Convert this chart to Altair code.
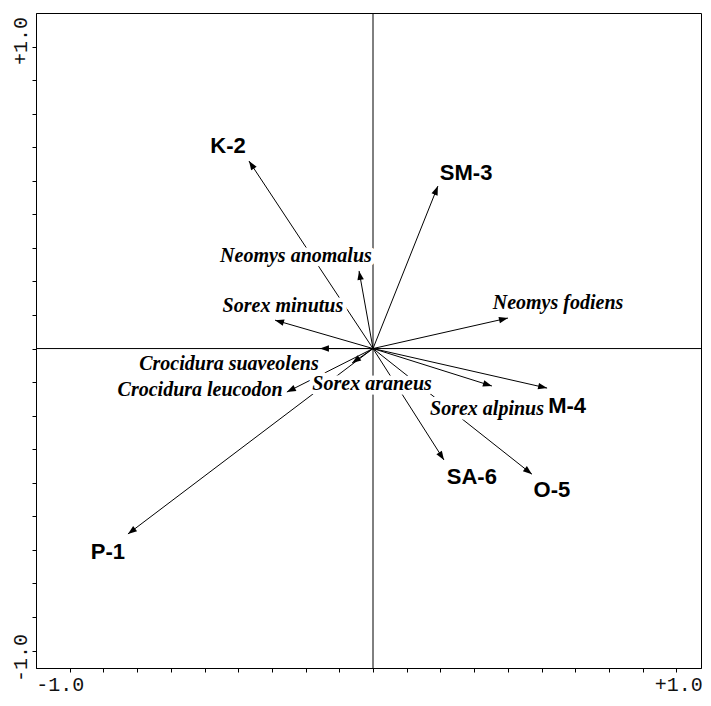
import altair as alt
import pandas as pd
import numpy as np

# ---- data ----
names = ["K-2", "SM-3", "M-4", "O-5", "SA-6", "P-1",
         "Neomys anomalus", "Sorex minutus", "Crocidura suaveolens",
         "Crocidura leucodon", "Sorex araneus", "Neomys fodiens", "Sorex alpinus"]
kinds = ["site"] * 6 + ["species"] * 7
tip_x = [-0.409, 0.214, 0.574, 0.524, 0.234, -0.808,
         -0.046, -0.323, -0.175, -0.284, -0.069, 0.445, 0.392]
tip_y = [0.621, 0.538, -0.131, -0.416, -0.369, -0.614,
         0.257, 0.094, 0.000, -0.144, -0.048, 0.101, -0.124]
label_x = [-0.478, 0.307, 0.640, 0.590, 0.326, -0.874,
           -0.254, -0.297, -0.475, -0.570, -0.003, 0.610, 0.376]
label_y = [0.670, 0.581, -0.190, -0.469, -0.425, -0.674,
           0.306, 0.141, -0.051, -0.137, -0.118, 0.151, -0.200]
x_ticks = [k / 9 for k in range(-9, 10)]
y_ticks = [k / 9 for k in range(-9, 10)]

# plot-area geometry (pixels per unit as in the original, trimmed to fit the page)
PX_X, PX_Y = 303.3, 302.0
W, H = 665, 655
XMIN = -10 / 9
YMAX = 10 / 9
XMAX = XMIN + W / PX_X
YMIN = YMAX - H / PX_Y

df = pd.DataFrame({"name": names, "kind": kinds, "x": tip_x, "y": tip_y,
                   "lx": label_x, "ly": label_y})
df["x0"] = 0.0
df["y0"] = 0.0
df["angle"] = (np.degrees(np.arctan2(df["x"] * PX_X, df["y"] * PX_Y)) + 360) % 360

xs = alt.Scale(domain=[XMIN, XMAX], nice=False, zero=False)
ys = alt.Scale(domain=[YMIN, YMAX], nice=False, zero=False)

xaxis = alt.Axis(values=x_ticks, title=None, grid=False,
                 labelExpr="datum.value == -1 ? '-1.0' : (datum.value == 1 ? '+1.0' : '')",
                 labelFont="Liberation Mono", labelFontSize=20, labelColor="#111",
                 labelOverlap=False, labelFlush=False, labelPadding=2,
                 labelBaseline="top", labelAlign="center",
                 labelOffset={"condition": {"test": "datum.value < 0", "value": -10}, "value": 2},
                 tickSize=4, tickColor="black", domainColor="black")
yaxis = alt.Axis(values=y_ticks, title=None, grid=False,
                 labelExpr="datum.value == -1 ? '-1.0' : (datum.value == 1 ? '+1.0' : '')",
                 labelFont="Liberation Mono", labelFontSize=20, labelColor="#111",
                 labelOverlap=False, labelFlush=False, labelPadding=2,
                 labelAngle=270, labelAlign="center", labelBaseline="bottom",
                 labelOffset={"condition": {"test": "datum.value > 0", "value": -6}, "value": 7},
                 tickSize=4, tickColor="black", domainColor="black")


def X(f):
    return alt.X(f, type="quantitative", scale=xs, axis=xaxis)


def Y(f):
    return alt.Y(f, type="quantitative", scale=ys, axis=yaxis)


base = alt.Chart(df)

vline = alt.Chart(pd.DataFrame({"v": [0.0]})).mark_rule(color="black", strokeWidth=1).encode(x=X("v"))
hline = alt.Chart(pd.DataFrame({"v": [0.0]})).mark_rule(color="black", strokeWidth=1).encode(y=Y("v"))

arrows = base.mark_rule(color="black", strokeWidth=1).encode(
    x=X("x0"), y=Y("y0"), x2="x", y2="y")

heads = base.mark_point(shape="M0,0 L-0.36,1 L0.36,1 Z", filled=True, size=324,
                        color="black", opacity=1, strokeWidth=0).encode(
    x=X("x"), y=Y("y"), angle=alt.Angle("angle:Q", scale=None))

sp = base.transform_filter(alt.datum.kind == "species")
st = base.transform_filter(alt.datum.kind == "site")

sp_font = dict(font="Liberation Serif", fontSize=20, fontWeight="bold", fontStyle="italic",
               align="center", baseline="middle")
st_font = dict(font="Liberation Sans", fontSize=22, fontWeight="bold",
               align="center", baseline="middle")

sp_halo = sp.mark_text(fill="white", stroke="white", strokeWidth=9, strokeJoin="round", **sp_font).encode(
    x=X("lx"), y=Y("ly"), text="name:N")
sp_text = sp.mark_text(color="black", **sp_font).encode(x=X("lx"), y=Y("ly"), text="name:N")
st_halo = st.mark_text(fill="white", stroke="white", strokeWidth=6, strokeJoin="round", **st_font).encode(
    x=X("lx"), y=Y("ly"), text="name:N")
st_text = st.mark_text(color="black", **st_font).encode(x=X("lx"), y=Y("ly"), text="name:N")

chart = alt.layer(vline, hline, arrows, heads, sp_halo, st_halo, sp_text, st_text).properties(
    width=W, height=H,
    padding={"left": 1, "top": 4, "right": 0, "bottom": 3},
    background="white",
).configure_view(stroke="black", strokeWidth=1).configure_axis(domainWidth=1, tickWidth=1)

chart.save("out.html", embed_options={"renderer": "svg", "actions": False})
